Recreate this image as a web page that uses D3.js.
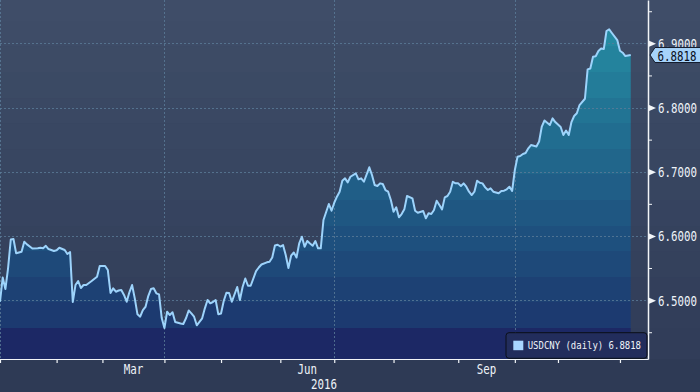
<!DOCTYPE html>
<html>
<head>
<meta charset="utf-8">
<script src="https://cdn.jsdelivr.net/npm/d3@7"></script>
<style>
    body { margin: 0; background: #2e3a55; }
    svg { display: block; }
</style>
</head>
<body>
<div id="chart-area"></div>
<script>

// USDCNY daily fixing, 2016 (x = trading day counted from Jan 1)
const tradingDays = [
    0, 1, 2, 3, 4, 5, 6, 8, 9, 10,
    12, 14, 15, 16, 17, 18, 20, 21, 22, 24,
    25, 26, 27, 28, 29, 30, 31, 32, 34, 36,
    37, 39, 40, 41, 42, 43, 44, 45, 46, 47,
    48, 49, 50, 51, 52, 53, 54, 55, 56, 57,
    58, 59, 60, 61, 62, 63, 64, 65, 67, 68,
    69, 70, 71, 72, 73, 75, 76, 77, 78, 79,
    80, 81, 82, 83, 84, 85, 86, 88, 89, 90,
    91, 92, 93, 95, 96, 97, 99, 100, 101, 102,
    103, 104, 105, 106, 107, 108, 109, 110, 111, 112,
    113, 114, 115, 116, 117, 118, 119, 120, 122, 123,
    124, 125, 126, 127, 128, 129, 130, 132, 133, 134,
    135, 137, 138, 139, 140, 141, 142, 143, 144, 145,
    146, 147, 148, 149, 150, 151, 153, 154, 155, 157,
    158, 159, 160, 161, 162, 163, 164, 165, 166, 167,
    168, 169, 170, 171, 172, 173, 174, 175, 176, 177,
    178, 179, 180, 181, 182, 183, 185, 186, 187, 188,
    189, 190, 191, 192, 193, 194, 195, 196, 197, 199,
    200, 201, 202, 204, 205, 206, 208, 209, 210, 211,
    212, 213, 214, 215, 217, 218, 219, 220, 221, 222,
    223, 224, 225, 226, 227, 229, 230, 231, 232, 234
];

const usdcny = [
    6.4975, 6.5352, 6.5173, 6.5500, 6.5944, 6.5952, 6.5729, 6.5754, 6.5910, 6.5869,
    6.5804, 6.5807, 6.5816, 6.5807, 6.5846, 6.5796, 6.5765, 6.5776, 6.5816, 6.5781,
    6.5718, 6.5749, 6.4971, 6.5235, 6.5298, 6.5189, 6.5235, 6.5235, 6.5298, 6.5365,
    6.5531, 6.5531, 6.5469, 6.5111, 6.5184, 6.5131, 6.5150, 6.5157, 6.5080, 6.4975,
    6.5122, 6.5235, 6.5028, 6.4779, 6.4742, 6.4846, 6.4897, 6.5064, 6.5173, 6.5184,
    6.5106, 6.5090, 6.4721, 6.4566, 6.4819, 6.4768, 6.4810, 6.4659, 6.4636, 6.4628,
    6.4717, 6.4838, 6.4794, 6.4742, 6.4608, 6.4717, 6.4872, 6.5002, 6.4950, 6.4971,
    6.5002, 6.4779, 6.4791, 6.4986, 6.5115, 6.5111, 6.4975, 6.5204, 6.5002, 6.5204,
    6.5337, 6.5224, 6.5224, 6.5453, 6.5508, 6.5555, 6.5589, 6.5598, 6.5664, 6.5851,
    6.5863, 6.5835, 6.5858, 6.5703, 6.5500, 6.5692, 6.5742, 6.5664, 6.5885, 6.5988,
    6.5832, 6.5921, 6.5882, 6.5847, 6.5921, 6.5807, 6.5807, 6.6248, 6.6497, 6.6393,
    6.6517, 6.6611, 6.6689, 6.6860, 6.6897, 6.6835, 6.6922, 6.6975, 6.6882, 6.6897,
    6.6844, 6.7069, 6.6949, 6.6793, 6.6777, 6.6819, 6.6809, 6.6715, 6.6689, 6.6559,
    6.6377, 6.6446, 6.6290, 6.6341, 6.6414, 6.6622, 6.6586, 6.6393, 6.6361, 6.6388,
    6.6274, 6.6352, 6.6341, 6.6404, 6.6548, 6.6481, 6.6414, 6.6601, 6.6622, 6.6689,
    6.6844, 6.6819, 6.6819, 6.6777, 6.6819, 6.6767, 6.6689, 6.6637, 6.6689, 6.6860,
    6.6829, 6.6819, 6.6757, 6.6715, 6.6742, 6.6689, 6.6664, 6.6700, 6.6704, 6.6726,
    6.6767, 6.6700, 6.7027, 6.7234, 6.7245, 6.7276, 6.7291, 6.7365, 6.7416, 6.7393,
    6.7471, 6.7704, 6.7798, 6.7728, 6.7832, 6.7774, 6.7696, 6.7572, 6.7642, 6.7572,
    6.7774, 6.7868, 6.7910, 6.8039, 6.8137, 6.8595, 6.8608, 6.8791, 6.8798, 6.8880,
    6.8919, 6.8911, 6.9192, 6.9218, 6.9161, 6.9051, 6.8885, 6.8854, 6.8802, 6.8818
];

// Month boundaries on the trading-day axis
const monthNames = ["Jan", "Feb", "Mar", "Apr", "May", "Jun", "Jul", "Aug", "Sep", "Oct", "Nov", "Dec"];
const monthStarts = [0, 21, 38, 61, 82, 104, 124, 146, 170, 191, 207, 230];
const labelledMonths = ["Mar", "Jun", "Sep"];
const gridMonths = ["Jan", "Apr", "Jul", "Oct"];
const yearLabel = "2016";

// Value axis
const yTicks = [6.5, 6.6, 6.7, 6.8, 6.9];
const yMinorTicks = [6.45, 6.55, 6.65, 6.75, 6.85, 6.95];
const xExtent = [0, 240.4];
const yExtent = [6.4083, 6.9675];

const seriesName = "USDCNY (daily)";


// Squeeze a monospace label horizontally (Bloomberg's narrow terminal font)
function narrow(selection, sx) {
    selection.each(function () {
        const t = d3.select(this);
        const x = +t.attr("x") || 0;
        const y = +t.attr("y") || 0;
        t.attr("x", 0).attr("y", 0)
            .attr("transform", `translate(${x},${y}) scale(${sx},1)`);
    });
}


class FxAreaChart {

    constructor(parentElement, days, rates) {
        this.parentElement = parentElement;
        this.data = days.map((d, i) => ({ day: d, value: rates[i] }));

        this.initVis();
    }

    initVis() {
        let vis = this;

        vis.margin = { top: 0, right: 52, bottom: 33, left: 0 };
        vis.width = 700 - vis.margin.left - vis.margin.right;
        vis.height = 392 - vis.margin.top - vis.margin.bottom;

        vis.svg = d3.select("#" + vis.parentElement).append("svg")
            .attr("width", 700)
            .attr("height", 392);

        vis.defs = vis.svg.append("defs");

        // Page background (bands go in their own layer, under the chart)
        vis.svg.append("rect")
            .attr("width", 700)
            .attr("height", 392)
            .attr("fill", "#2e3a55");

        vis.bgLayer = vis.svg.append("g");

        vis.g = vis.svg.append("g")
            .attr("transform", "translate(" + vis.margin.left + "," + vis.margin.top + ")");

        // Scales
        vis.x = d3.scaleLinear()
            .domain(xExtent)
            .range([0, vis.width]);

        vis.y = d3.scaleLinear()
            .domain(yExtent)
            .range([vis.height, 0]);

        vis.fmt = d3.format(".4f");
        vis.sx = 0.77;          // horizontal squeeze of 14px labels
        vis.charW = 8.43 * vis.sx;

        vis.drawBands();
        vis.updateVis();
    }

    /*
     * Stepped background + area colour bands (Bloomberg style)
     */
    drawBands() {
        let vis = this;

        // band edges, measured up from the x axis
        vis.edges = [vis.height];
        let e = vis.height - 31;
        while (e > 0) {
            vis.edges.push(e);
            e -= 25.6;
        }
        vis.edges.push(0);

        vis.bands = [];
        for (let i = 0; i < vis.edges.length - 1; i++) {
            vis.bands.push({ y0: vis.edges[i + 1], y1: vis.edges[i], bottom: i === 0 });
        }

        const bgColor = d3.interpolateRgb("#3f4e68", "#303c58");
        const fillColor = d3.interpolateRgb("#258ea4", "#1c3a70");

        vis.bands.forEach(b => {
            const mid = (b.y0 + b.y1) / 2;
            b.bg = bgColor(mid / vis.height);
            b.fill = b.bottom ? "#1c2865" : fillColor(Math.max(0, Math.min(1, (mid - 20) / 295)));
        });

        vis.bgLayer.selectAll(".bg-band")
            .data(vis.bands)
            .join("rect")
            .attr("class", "bg-band")
            .attr("x", 0)
            .attr("y", d => d.y0)
            .attr("width", 700)
            .attr("height", d => d.y1 - d.y0 + 0.5)
            .attr("fill", d => d.bg);

        // Hard-stop gradient for the area
        const grad = vis.defs.append("linearGradient")
            .attr("id", "area-fill")
            .attr("gradientUnits", "userSpaceOnUse")
            .attr("x1", 0).attr("y1", 0)
            .attr("x2", 0).attr("y2", vis.height);

        vis.bands.slice().reverse().forEach(b => {
            grad.append("stop").attr("offset", b.y0 / vis.height).attr("stop-color", b.fill);
            grad.append("stop").attr("offset", b.y1 / vis.height).attr("stop-color", b.fill);
        });
    }

    updateVis() {
        let vis = this;

        const last = vis.data[vis.data.length - 1];

        // Area
        const area = d3.area()
            .x(d => vis.x(d.day))
            .y0(vis.height)
            .y1(d => vis.y(d.value));

        vis.g.append("path")
            .datum(vis.data)
            .attr("d", area)
            .attr("fill", "url(#area-fill)");

        // Dashed grid
        vis.g.selectAll(".h-grid")
            .data(yTicks)
            .join("line")
            .attr("class", "h-grid")
            .attr("x1", 0)
            .attr("x2", vis.width)
            .attr("y1", d => Math.round(vis.y(d)) + 0.5)
            .attr("y2", d => Math.round(vis.y(d)) + 0.5)
            .attr("stroke", "#5b7c98")
            .attr("stroke-dasharray", "2,2")
            .attr("stroke-opacity", 0.8);

        vis.g.selectAll(".v-grid")
            .data(gridMonths)
            .join("line")
            .attr("class", "v-grid")
            .attr("x1", d => Math.round(vis.x(monthStarts[monthNames.indexOf(d)])) + 0.5)
            .attr("x2", d => Math.round(vis.x(monthStarts[monthNames.indexOf(d)])) + 0.5)
            .attr("y1", 0)
            .attr("y2", vis.height)
            .attr("stroke", "#5b7c98")
            .attr("stroke-dasharray", "2,2")
            .attr("stroke-opacity", 0.8);

        // Line
        const line = d3.line()
            .x(d => vis.x(d.day))
            .y(d => vis.y(d.value));

        vis.g.append("path")
            .datum(vis.data)
            .attr("d", line)
            .attr("fill", "none")
            .attr("stroke", "#9dd3fb")
            .attr("stroke-width", 2)
            .attr("stroke-linejoin", "round");

        // X axis (month ticks only)
        const xAxis = d3.axisBottom(vis.x)
            .tickValues(monthStarts)
            .tickSize(4)
            .tickSizeOuter(0)
            .tickFormat("");

        const xg = vis.g.append("g")
            .attr("transform", "translate(0," + vis.height + ")")
            .call(xAxis);
        xg.selectAll("path, line").attr("stroke", "#f2f5f8").attr("stroke-width", 1.2);

        // Month labels sit in the middle of their month
        vis.g.selectAll(".month-label")
            .data(labelledMonths)
            .join("text")
            .attr("class", "month-label")
            .attr("x", d => {
                const i = monthNames.indexOf(d);
                return vis.x((monthStarts[i] + monthStarts[i + 1]) / 2) - d.length * vis.charW / 2;
            })
            .attr("y", vis.height + 15)
            .style("font-family", "DejaVu Sans Mono, monospace")
            .style("font-size", "14px")
            .attr("fill", "#eef3f8")
            .text(d => d)
            .call(narrow, vis.sx);

        vis.g.append("text")
            .attr("x", vis.width / 2 - yearLabel.length * vis.charW / 2)
            .attr("y", vis.height + 30)
            .style("font-family", "DejaVu Sans Mono, monospace")
            .style("font-size", "14px")
            .attr("fill", "#eef3f8")
            .text(yearLabel)
            .call(narrow, vis.sx);

        // Y axis on the right
        const yAxis = d3.axisRight(vis.y)
            .tickValues(yTicks)
            .tickSize(0)
            .tickSizeOuter(0)
            .tickPadding(10)
            .tickFormat(vis.fmt);

        const yg = vis.g.append("g")
            .attr("transform", "translate(" + vis.width + ",0)")
            .call(yAxis);
        yg.select(".domain").attr("stroke", "#f2f5f8").attr("stroke-width", 1.5);
        yg.selectAll("text")
            .attr("dy", null)
            .attr("y", 5)
            .style("font-family", "DejaVu Sans Mono, monospace")
            .style("font-size", "14px")
            .attr("fill", "#eef3f8")
            .call(narrow, vis.sx);

        // Triangle markers at the major ticks
        yg.selectAll(".tick")
            .append("path")
            .attr("d", "M0,-3.5L8,0L0,3.5Z")
            .attr("fill", "#f2f5f8");

        const yMinor = d3.axisRight(vis.y)
            .tickValues(yMinorTicks)
            .tickSize(4)
            .tickSizeOuter(0)
            .tickFormat("");

        const ym = vis.g.append("g")
            .attr("transform", "translate(" + vis.width + ",0)")
            .call(yMinor);
        ym.select(".domain").remove();
        ym.selectAll("line").attr("stroke", "#f2f5f8");

        // Last value tag
        const ty = vis.y(last.value);
        const tag = vis.g.append("g").attr("transform", "translate(" + vis.width + "," + ty + ")");

        tag.append("path")
            .attr("d", "M2,0L7,-7.5L60,-7.5L60,7.5L7,7.5Z")
            .attr("fill", "#a6d3fa")
            .attr("stroke", "#141c2c");

        tag.append("text")
            .attr("x", 9.5)
            .attr("y", 6)
            .style("font-family", "DejaVu Sans Mono, monospace")
            .style("font-size", "14px")
            .attr("fill", "#0a0f1a")
            .text(vis.fmt(last.value))
            .call(narrow, vis.sx);

        // Legend
        const legendText = seriesName + " " + vis.fmt(last.value);
        const legend = vis.g.append("g")
            .attr("transform", "translate(506,332.7)");

        legend.append("rect")
            .attr("width", 141)
            .attr("height", 25.6)
            .attr("rx", 3)
            .attr("fill", "#222d5c")
            .attr("stroke", "#0b0f18");

        legend.append("rect")
            .attr("x", 7.3)
            .attr("y", 8)
            .attr("width", 10)
            .attr("height", 9.5)
            .attr("fill", "#a8d6ff");

        legend.append("text")
            .attr("x", 21.7)
            .attr("y", 16.6)
            .style("font-family", "DejaVu Sans Mono, monospace")
            .style("font-size", "10.5px")
            .attr("fill", "#eef3f8")
            .text(legendText)
            .call(narrow, 0.855);
    }
}

new FxAreaChart("chart-area", tradingDays, usdcny);

</script>
</body>
</html>
